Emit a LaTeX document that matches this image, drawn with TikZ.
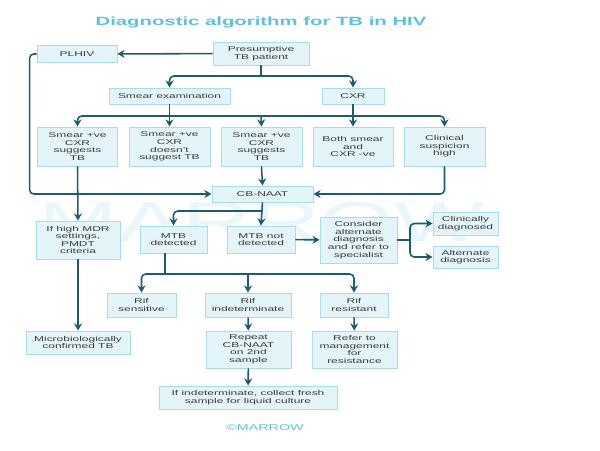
\documentclass[tikz,border=0pt]{standalone}
\usepackage{fontspec}
\setmainfont{Liberation Sans}[FakeStretch=1.7]
\usepackage{xcolor,tikz}
\usetikzlibrary{arrows.meta,positioning,calc}
\definecolor{boxfill}{HTML}{E4F5F9}
\definecolor{boxline}{HTML}{A8DCE8}
\definecolor{arrcol}{HTML}{1D5C6E}
\definecolor{titlecol}{HTML}{5BC4DC}
\definecolor{txtcol}{HTML}{3A3A3A}
\definecolor{wmark}{HTML}{EAF7FA}

\begin{document}
\begin{tikzpicture}[x=0.025cm,y=-0.025cm,cell/.style={draw=boxline,fill=boxfill,line width=0.6pt,inner sep=1pt,align=center,text=txtcol,font=\fontsize{5}{5.4}\selectfont},arr/.style={-{Stealth[length=1.8mm,width=2mm]},draw=arrcol,line width=1.1pt},link/.style={draw=arrcol,line width=1.1pt}]
\useasboundingbox (0,0) rectangle (600,450);
\node[text=wmark,font=\fontsize{40}{40}\selectfont] (wm) at (262,222) {MARROW};
\node[text=titlecol,font=\fontsize{8.5}{9}\selectfont\bfseries] (title) at (261,22) {Diagnostic algorithm for TB in HIV};
% top rows
\node[cell,minimum width=2cm,minimum height=0.425cm] (plhiv) at (77,54) {PLHIV};
\node[cell,minimum width=2.4cm,minimum height=0.575cm] (pres) at (261,53.5) {Presumptive\\TB patient};
\node[cell,minimum width=3.025cm,minimum height=0.4cm] (smear) at (169.5,96) {Smear examination};
\node[cell,minimum width=1.55cm,minimum height=0.4cm] (cxr) at (353,96) {CXR};
\node[cell,minimum width=2cm,minimum height=0.975cm] (ra) at (77.5,146.5) {Smear +ve\\CXR\\suggests\\TB};
\node[cell,minimum width=2.025cm,minimum height=0.975cm] (rb) at (169.5,146.5) {Smear +ve\\CXR\\doesn't\\suggest TB};
\node[cell,minimum width=2.025cm,minimum height=0.975cm] (rc) at (261.5,146.5) {Smear +ve\\CXR\\suggests\\TB};
\node[cell,minimum width=2cm,minimum height=0.975cm] (rd) at (353,146.5) {Both smear\\and\\CXR -ve};
\node[cell,minimum width=2.025cm,minimum height=0.975cm] (re) at (444.5,146.5) {Clinical\\suspicion\\high};
\node[cell,minimum width=2.525cm,minimum height=0.4cm] (naat) at (262.5,194) {CB-NAAT};
% middle
\node[cell,minimum width=2.1cm,minimum height=0.95cm] (pmdt) at (78,240) {If high MDR\\settings,\\PMDT\\criteria};
\node[cell,minimum width=1.675cm,minimum height=0.675cm] (mtbd) at (173.5,239.5) {MTB\\detected};
\node[cell,minimum width=1.7cm,minimum height=0.675cm] (mtbnd) at (261,239.5) {MTB not\\detected};
\node[cell,minimum width=1.925cm,minimum height=1.15cm] (alter) at (358.5,240) {Consider\\alternate\\diagnosis\\and refer to\\specialist};
\node[cell,minimum width=1.625cm,minimum height=0.575cm] (clin) at (465.5,223.5) {Clinically\\diagnosed};
\node[cell,minimum width=1.625cm,minimum height=0.55cm] (altdx) at (465.5,257) {Alternate\\diagnosis};
% bottom
\node[cell,minimum width=1.725cm,minimum height=0.6cm] (rifs) at (141.5,305) {Rif\\sensitive};
\node[cell,minimum width=2.15cm,minimum height=0.6cm] (rifi) at (248,305) {Rif\\indeterminate};
\node[cell,minimum width=1.7cm,minimum height=0.6cm] (rifr) at (354,305) {Rif\\resistant};
\node[cell,minimum width=2.6cm,minimum height=0.575cm] (micro) at (78,342.5) {Microbiologically\\confirmed TB};
\node[cell,minimum width=2.125cm,minimum height=0.925cm] (rep) at (248.5,349.5) {Repeat\\CB-NAAT\\on 2nd\\sample};
\node[cell,minimum width=2.125cm,minimum height=0.925cm] (refer) at (354.5,349.5) {Refer to\\management\\for\\resistance};
\node[cell,minimum width=4.45cm,minimum height=0.575cm] (fresh) at (248,397.5) {If indeterminate, collect fresh\\sample for liquid culture};
\node[text=titlecol,font=\fontsize{6}{6}\selectfont] (mark) at (265,428) {©MARROW};
% junctions
\coordinate (jtop) at (261,76);
\coordinate (jbar) at (261,116);
\coordinate (jnaat) at (262.5,211);
\coordinate (jalt) at (410,240);
\coordinate (jrif) at (165,274);
% connectors
\draw[arr] (pres)--(plhiv);
\draw[link] (pres.south)--(jtop);
\draw[arr,rounded corners=3pt] (jtop)-|(smear.north);
\draw[arr,rounded corners=3pt] (jtop)-|(cxr.north);
\draw[arr] (smear.south)--(rb.north);\draw[arr] (cxr.south)--(rd.north);\draw[arr] (jbar)--(rc.north);
\draw[arr,rounded corners=3pt] (jbar)-|(ra.north);
\draw[arr,rounded corners=3pt] (jbar)-|(re.north);
\draw[arr,rounded corners=3pt] (plhiv.west)--++(-7,0)|-(naat.west);
\draw[arr] (rc.south)--(naat.north);
\draw[arr,rounded corners=3pt] (re.south)|-(naat.east);
\draw[arr] (ra.south)--(pmdt.north);\draw[arr] (pmdt.south)--(micro.north);
\draw[arr] (naat.south)--(mtbnd.north);
\draw[arr,rounded corners=3pt] (jnaat)-|(mtbd.north);
\draw[arr] (mtbnd)--(alter);
\draw[link] (alter.east)--(jalt);
\draw[arr,rounded corners=3pt] (jalt)|-(clin.west);
\draw[arr,rounded corners=3pt] (jalt)|-(altdx.west);
\draw[link] (mtbd.south -| jrif)--(jrif);
\draw[arr,rounded corners=3pt] (jrif)-|(rifs.north);
\draw[arr,rounded corners=3pt] (jrif)-|(rifr.north);
\draw[arr] (rifi.north |- jrif)--(rifi.north);
\draw[arr] (rifi)--(rep);\draw[arr] (rifr)--(refer);\draw[arr] (rep)--(fresh);
\end{tikzpicture}
\end{document}
